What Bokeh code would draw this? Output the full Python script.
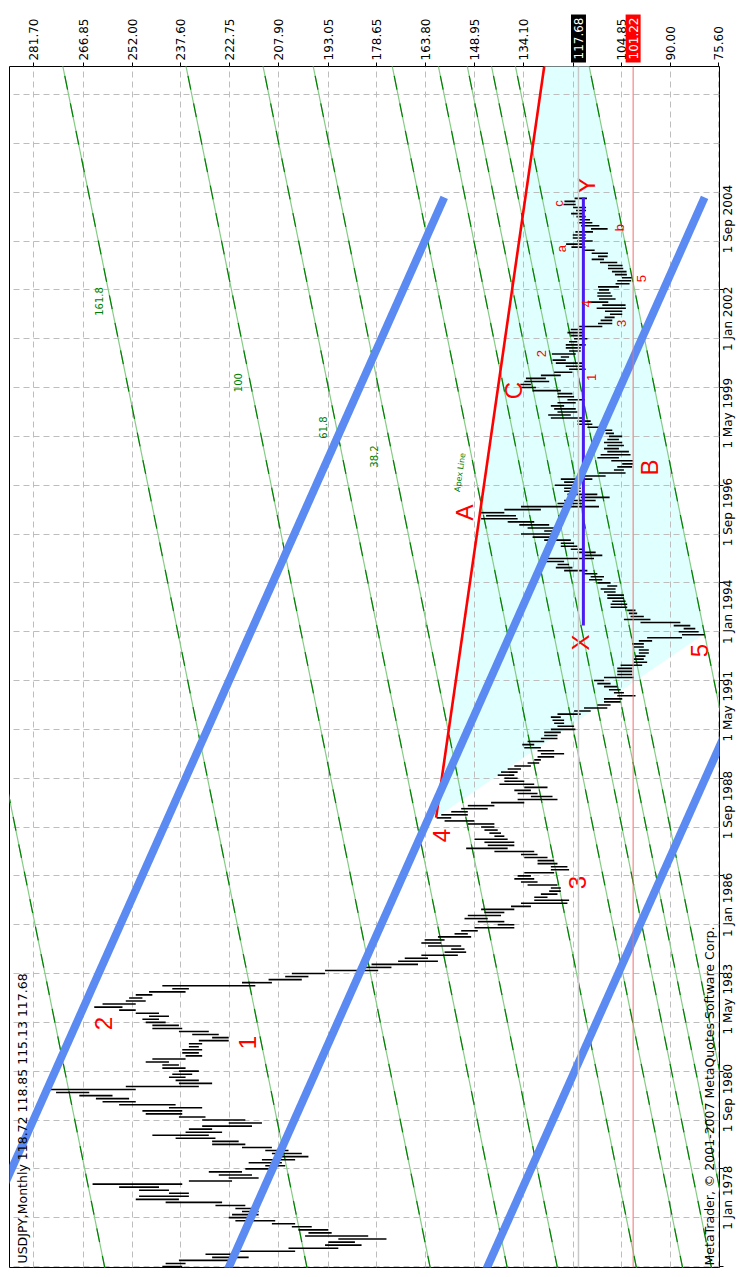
import math
from bokeh.plotting import figure
from bokeh.models import Range1d, FixedTicker, NumeralTickFormatter, Label, Span, ColumnDataSource
from bokeh.core.properties import value
from bokeh.embed import file_html
from bokeh.resources import INLINE

# ---------------- data ----------------
header_text = "USDJPY,Monthly  118.72 118.85 115.13 117.68"
copyright_text = "MetaTrader, \u00a9 2001-2007 MetaQuotes Software Corp."

# monthly bars, index 0 = Jan 1978 ... 350 = Mar 2007
bar_high = [
    243, 242, 238, 228, 230, 222, 205, 194, 193, 190, 200, 199,            # 1978
    202, 204, 210, 221, 223, 222, 219, 221, 227, 242, 251, 250,            # 1979
    241, 250, 256, 264, 235, 223, 226, 229, 218, 212, 217, 213,            # 1980
    207, 210, 212, 219, 228, 228, 239, 246, 236, 235, 231, 223,            # 1981
    231, 238, 248, 249, 241, 256, 261, 263, 268, 275, 278, 254,            # 1982
    238, 239, 241, 240, 238, 243, 243, 248, 246, 236, 237, 237,            # 1983
    235, 235, 232, 228, 234, 238, 246, 246, 248, 249, 247, 251,            # 1984
    256, 263.5, 261, 254, 253, 251, 247, 240, 243, 219, 211, 206,          # 1985
    204, 194, 183, 180, 172, 170, 165, 158, 156, 163, 165, 164,            # 1986
    160, 155, 153, 149, 142, 148, 152, 151, 146, 147, 138, 135,            # 1987
    131, 131, 129, 126.5, 126, 133, 135, 137, 136, 134, 126, 126,          # 1988
    130, 130, 134, 135, 143, 151.5, 145, 146, 149, 143, 144.5, 146,        # 1989
    147, 151, 158, 160.4, 159, 156, 153, 151, 144, 136, 132, 136,          # 1990
    137, 134, 141.5, 140, 140, 142, 141, 139, 137, 133, 131, 130,          # 1991
    129, 130, 134, 134.6, 133, 129, 128, 128, 126, 124, 125, 125.5,        # 1992
    126, 124, 119, 116, 112, 110, 110, 106, 107, 108.5, 110, 112,          # 1993
    113, 110, 106, 106, 106, 105, 101, 101, 100.5, 99.5, 99.5, 101,        # 1994
    101.5, 99.5, 97, 86.5, 87.5, 86, 89, 99, 104, 102, 102.5, 103,         # 1995
    108, 108, 107.5, 109, 109, 110, 111, 109, 112, 114.5, 114, 116.5,      # 1996
    122, 124.5, 124, 127.5, 127, 116, 118, 120, 123, 123, 128, 131.5,      # 1997
    135, 128, 133, 135.5, 139, 147, 145.5, 147.6, 140, 135, 124, 122,      # 1998
    117, 121, 122, 122, 124.8, 122, 123, 116.5, 111.5, 107, 106, 104.5,    # 1999
    107.8, 112, 111, 109, 110, 109, 110, 109, 108.5, 109.5, 111, 115,      # 2000
    118, 118, 126, 126.8, 124, 125, 126, 124, 121, 124, 124, 131.5,        # 2001
    135, 135.2, 134, 133.5, 129, 125, 120.5, 121.5, 124.5, 125.5, 123, 125.7,  # 2002
    120.5, 121.5, 121.5, 120.5, 119, 120, 121, 120, 117.5, 111.8, 111, 109.8,  # 2003
    108.2, 109.7, 112.2, 110.5, 114.9, 111.5, 112, 112, 111.5, 111.8, 106.5, 106,  # 2004
    104.6, 106.7, 107.6, 108.8, 108.8, 111.2, 113.7, 111.8, 113.7, 116.6, 119.8, 121.4,  # 2005
    118.1, 119.4, 119.4, 118.6, 113.9, 116.9, 117.9, 117.4, 118.3, 119.9, 118.4, 119.3,  # 2006
    122.2, 121.9, 118.85,                                                  # 2007
]
bar_low = [
    237, 236, 222, 217, 221, 203, 190, 183, 185, 175.5, 181, 192,
    193, 198, 203, 209, 216, 214, 214, 215, 218, 225, 238, 235,
    235, 241, 244, 237, 222, 214, 216, 219, 210, 206, 207, 203,
    199, 201, 205, 210, 218, 220, 227, 229, 225, 228, 216, 213,
    218, 230, 237, 237, 231, 239, 251, 253, 258, 265, 251, 232,
    228, 232, 236, 234, 232, 236, 238, 241, 236, 231, 232, 231,
    232, 231, 223, 223, 226, 229, 237, 238, 242, 244, 241, 244,
    251, 255, 251, 248, 249, 246, 236, 235, 215, 210, 201, 199,
    194, 178, 174, 166, 160, 163, 154, 151.5, 152, 153, 159, 158,
    150, 151, 148, 137, 137, 140, 145, 141, 140, 137, 132, 121,
    120.5, 127, 124, 123, 123, 124, 130, 131, 132, 125, 120.5, 121,
    124, 125, 127, 130, 131, 139, 137, 137, 139, 140, 141, 142,
    143, 143, 149, 156, 151, 151, 145, 143, 134, 124, 125.5, 130,
    132, 127, 131, 134, 136, 137, 136, 135, 132, 129.5, 129, 125,
    122, 125, 129, 131, 128, 124, 124, 123, 118.6, 119, 122, 122,
    123, 117, 114, 109, 108, 105, 104.5, 100.5, 104, 105, 106, 108,
    110, 101, 101.5, 101.5, 101.5, 98.5, 97, 98, 97.5, 96.5, 96.5, 98,
    98, 95.5, 86.5, 79.75, 81.5, 82.5, 84, 87, 96, 98, 100, 100.5,
    103, 103, 103.5, 104, 104, 106.5, 106.5, 106, 108, 110.5, 110, 112,
    115, 119.5, 120.5, 122, 113, 110.5, 112.5, 116, 118, 119, 120, 126,
    125.5, 124, 125, 126.5, 131, 136, 136.5, 140, 129, 111.5, 116, 112.5,
    108.3, 112, 117, 117, 118, 117, 113.5, 109.5, 103.5, 104, 101.5, 101.3,
    101.3, 105.5, 102, 102.5, 105.5, 104, 104.5, 105.5, 104.5, 107, 107.5, 109.5,
    113.5, 114, 116.5, 120, 118, 118.5, 122, 118.5, 115.8, 119, 119.5, 123,
    130.5, 132, 126.5, 127.5, 123, 119.5, 115.5, 116.5, 116.5, 121.5, 120.5, 118.5,
    117, 117, 115.5, 118, 115, 116.5, 116.5, 116.5, 110.5, 107.5, 107.5, 106.8,
    104.5, 104.5, 103.4, 103.5, 108.7, 106.5, 107.5, 108, 108.5, 105.5, 102.3, 101.8,
    101.7, 103.1, 103.2, 104.2, 104.4, 106, 110, 108.9, 108.8, 112.8, 115.6, 115.8,
    113.4, 115.5, 115.5, 113.3, 108.9, 111.4, 113.5, 114.2, 115.5, 116.5, 115.4, 115.4,
    118.5, 118.6, 115.13,
]

# price scale (top axis); the 119.25 label is hidden under the bid tag
price_ticks = [281.70, 266.85, 252.00, 237.60, 222.75, 207.90, 193.05, 178.65,
               163.80, 148.95, 134.10, 119.25, 104.85, 90.00, 75.60]
hidden_price_label = 119.25
# time scale (right axis), months since Jan 1978
date_ticks = [0, 32, 64, 96, 128, 160, 192, 224, 256, 288, 320]
date_labels = ["1 Jan 1978", "1 Sep 1980", "1 May 1983", "1 Jan 1986", "1 Sep 1988",
               "1 May 1991", "1 Jan 1994", "1 Sep 1996", "1 May 1999", "1 Jan 2002",
               "1 Sep 2004"]
time_grid = [0, 16, 32, 48, 64, 80, 96, 112, 128, 144, 160, 176, 192, 208, 224,
             240, 256, 272, 288, 304, 320, 336, 352, 368, 384]

bid_price = 117.68
hline_price = 101.22

# channel (blue): start/end (price, month)
chan_p0 = [300.0, 224.1, 146.3]
chan_m0 = [3.6, -3.0, -3.0]
chan_p1 = [158.1, 79.7, 70.0]
chan_m1 = [350.3, 350.3, 183.1]

# Fibonacci channel (green): price of each line at month 0, common slope (price / month)
fib_price_m0 = [260.4, 199.5, 162.4, 139.2, 124.1, 100.3, 86.4, 77.7, 70.4, 63.2, 41.0]
fib_slope = 0.1868
fib_label_text = ["161.8", "100", "61.8", "38.2"]
fib_label_p = [262.2, 220.3, 194.6, 179.3]
fib_label_m = [316.2, 289.6, 274.9, 265.4]

# triangle (wave 4 high, wave 5 low, apex) and apex trendline
tri_p = [160.55, 79.73, 122.37]
tri_m = [147.1, 207.4, 435.7]

# X-Y line
xy_price = 116.2
xy_m = [210.0, 350.3]

# Elliott labels
wave_text = ["1", "2", "3", "4", "5", "A", "B", "C", "X", "Y"]
wave_p = [217.25, 260.67, 118.12, 159.04, 81.24, 152.11, 96.32, 137.3, 116.92, 115.4]
wave_m = [73.4, 79.6, 125.8, 141.2, 201.8, 247.1, 261.8, 287.0, 204.5, 354.2]
sub_text = ["1", "2", "3", "4", "5", "a", "b", "c"]
sub_p = [113.8, 128.9, 104.7, 115.3, 98.7, 122.9, 105.3, 123.7]
sub_m = [291.3, 299.1, 309.0, 315.5, 323.7, 333.5, 340.4, 348.3]

# ---------------- figure ----------------
FONT = "DejaVu Sans"
P_LEFT, P_RIGHT = 289.02, 75.21
M_BOT, M_TOP = -0.33, 393.2

p = figure(frame_width=710, frame_height=1201,
           x_range=Range1d(P_LEFT, P_RIGHT), y_range=Range1d(M_BOT, M_TOP),
           x_axis_location="above", y_axis_location="right",
           output_backend="svg", toolbar_location=None,
           min_border_left=9, min_border_top=66, min_border_right=18, min_border_bottom=2)
p.background_fill_color = "white"
p.border_fill_color = "white"
p.outline_line_color = "black"
p.outline_line_width = 1

# top (price) axis
xa = p.xaxis[0]
xa.ticker = FixedTicker(ticks=price_ticks)
xa.formatter = NumeralTickFormatter(format="0.00")
xa.major_label_overrides = {hidden_price_label: ""}
xa.major_label_orientation = math.pi / 2
xa.axis_line_color = None
xa.major_tick_out = 4
xa.major_tick_in = 0
xa.minor_tick_out = 0
xa.minor_tick_in = 0
xa.major_tick_line_color = "black"
xa.major_label_standoff = 2
xa.major_label_text_font = FONT
xa.major_label_text_font_size = "12px"
xa.major_label_text_color = "black"

# right (time) axis: minor ticks mark dates, labels start at tick and run upward
label_centers = [t + 12 for t in date_ticks]
ya = p.yaxis[0]
ya.ticker = FixedTicker(ticks=label_centers, minor_ticks=date_ticks)
ya.major_label_overrides = {c: lab for c, lab in zip(label_centers, date_labels)}
ya.major_label_orientation = math.pi / 2
ya.axis_line_color = None
ya.major_tick_out = 0
ya.major_tick_in = 0
ya.minor_tick_out = 4
ya.minor_tick_in = 0
ya.minor_tick_line_color = "black"
ya.major_label_standoff = 5
ya.major_label_text_font = FONT
ya.major_label_text_font_size = "12px"
ya.major_label_text_color = "black"

# grids
p.xgrid.ticker = FixedTicker(ticks=price_ticks)
p.ygrid.ticker = FixedTicker(ticks=time_grid)
for g in (p.xgrid[0], p.ygrid[0]):
    g.grid_line_color = "#BDBDBD"
    g.grid_line_dash = "6 4"
    g.grid_line_width = 1

# triangle fill (below grid)
p.patch(tri_p, tri_m, fill_color="#E0FFFF", line_color=None, level="image")

# green Fibonacci channel lines
m_a, m_b = -10.0, 440.0
fib_src = ColumnDataSource(dict(
    x0=[v + fib_slope * m_a for v in fib_price_m0], y0=[m_a] * len(fib_price_m0),
    x1=[v + fib_slope * m_b for v in fib_price_m0], y1=[m_b] * len(fib_price_m0)))
p.segment("x0", "y0", "x1", "y1", source=fib_src, line_color="#86CC86", line_width=1.2)
p.segment("x0", "y0", "x1", "y1", source=fib_src, line_color="#008000", line_width=1.2,
          line_dash="14 14")
p.text(fib_label_p, fib_label_m, text=fib_label_text, angle=math.pi / 2,
       text_font=value(FONT), text_font_size="10px", text_color="#008000",
       text_align="center", text_baseline="middle")

# horizontal price lines
p.add_layout(Span(location=bid_price, dimension="height", line_color="#C8C8C8", line_width=1.5))
p.add_layout(Span(location=hline_price, dimension="height", line_color="#F07070", line_width=1))

# price bars
months = list(range(len(bar_high)))
p.segment(bar_high, months, bar_low, months, line_color="black", line_width=1.6)

# apex red trendline (left edge of triangle)
p.line([tri_p[0], tri_p[2]], [tri_m[0], tri_m[2]], line_color="#FF0000", line_width=2.6)
p.text([153.3], [260.2], text=["Apex Line"], angle=1.428,
       text_font=value(FONT), text_font_size="8px", text_color="#008000",
       text_align="center", text_baseline="middle")

# X-Y line
p.line([xy_price, xy_price], xy_m, line_color="#4A1CF0", line_width=3)

# blue channel
p.segment(chan_p0, chan_m0, chan_p1, chan_m1, line_color="#5A8AF2", line_width=8)

# wave labels
p.text(wave_p, wave_m, text=wave_text, angle=math.pi / 2,
       text_font=value("Liberation Sans"), text_font_size="24px", text_color="#FF0000",
       text_align="center", text_baseline="middle")
p.text(sub_p, sub_m, text=sub_text, angle=math.pi / 2,
       text_font=value("Liberation Sans"), text_font_size="13px", text_color="#FF0000",
       text_align="center", text_baseline="middle")

# header and copyright
p.text([285.25], [0.98], text=[header_text], angle=math.pi / 2,
       text_font=value(FONT), text_font_size="12.5px", text_color="black",
       text_align="left", text_baseline="middle")
p.text([78.37], [0.33], text=[copyright_text], angle=math.pi / 2,
       text_font=value(FONT), text_font_size="12.5px", text_color="black",
       text_align="left", text_baseline="middle")

# price tags over the top axis; they sit in the (empty) lower side panel so the
# frame stays put, and are positioned with the frame's data scales (not clipped)
for price, bg in ((bid_price, "black"), (hline_price, "#FF0000")):
    p.add_layout(Label(x=price, y=M_TOP, y_offset=4, text="%.2f" % price, angle=math.pi / 2,
                       text_align="left", text_baseline="middle", text_color="white",
                       text_font=FONT, text_font_size="12px",
                       background_fill_color=bg, padding=3), "below")

open("out.html", "w").write(file_html(p, INLINE))
